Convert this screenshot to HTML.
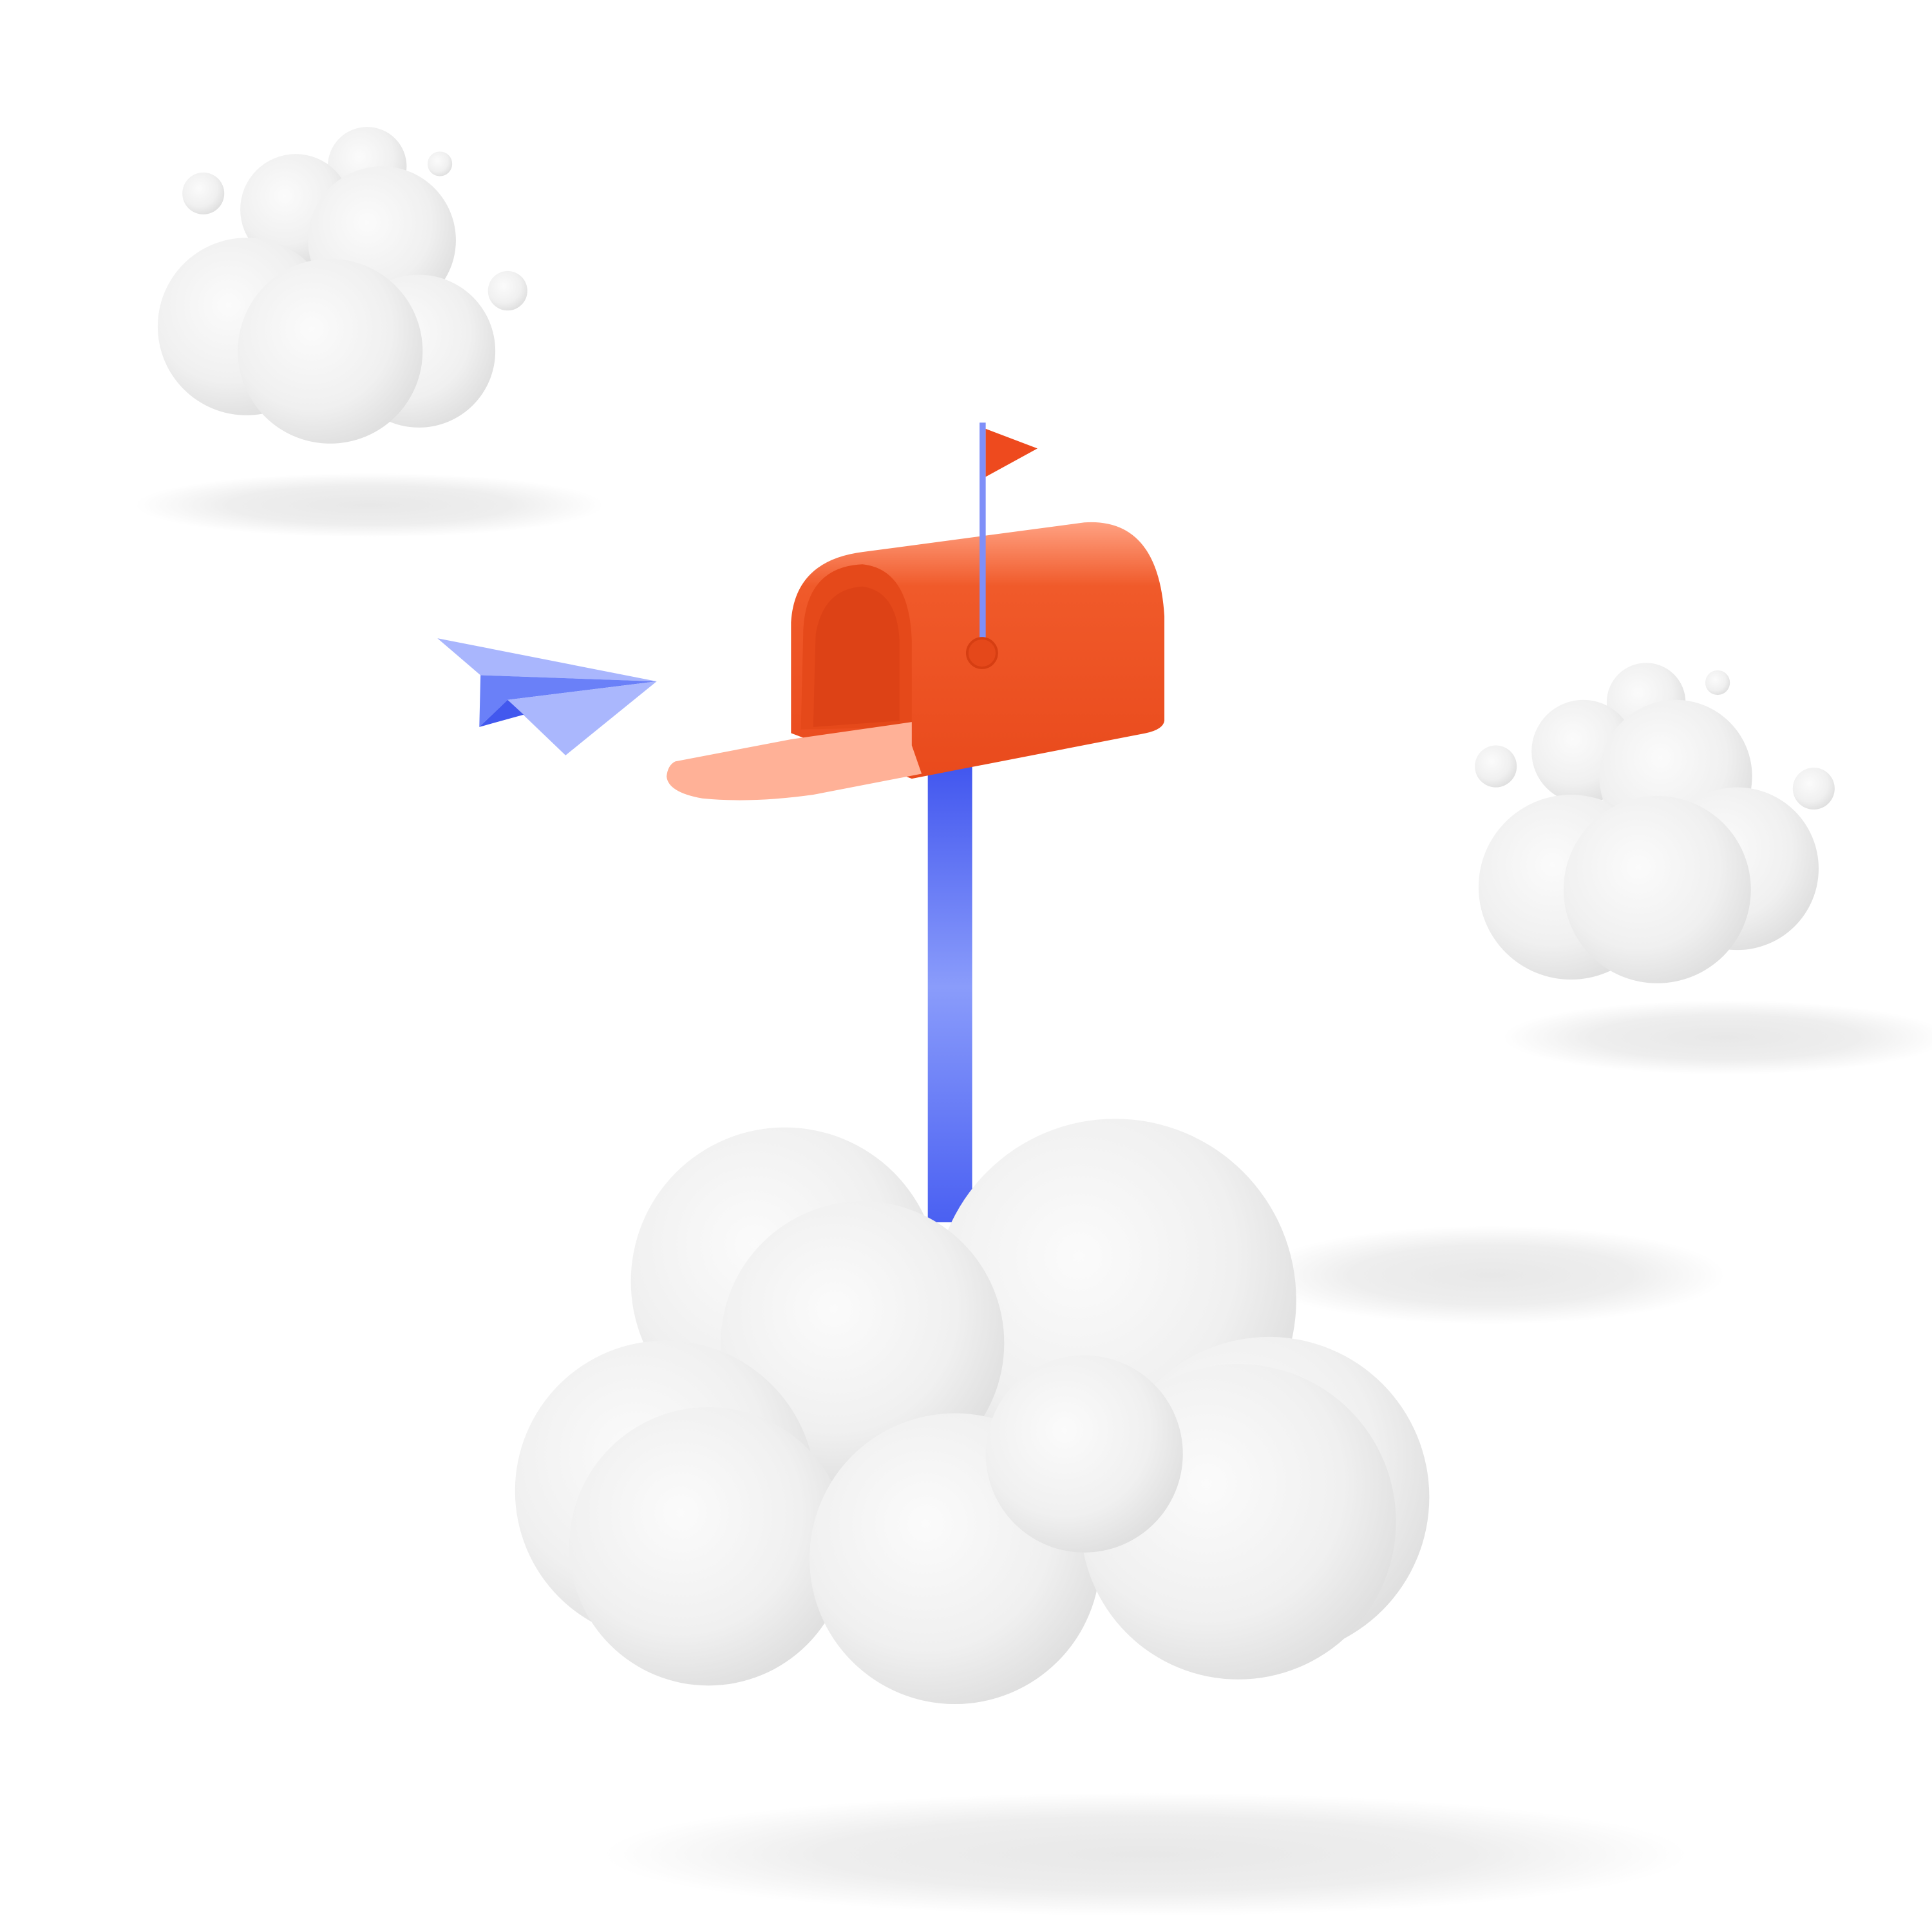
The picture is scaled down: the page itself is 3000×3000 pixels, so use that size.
<!DOCTYPE html>
<html><head><meta charset="utf-8"><style>
html,body{margin:0;padding:0;background:#fff;width:3000px;height:3000px;overflow:hidden}
svg{display:block}
</style></head><body>
<svg width="3000" height="3000" viewBox="0 0 1568 1568" xmlns="http://www.w3.org/2000/svg">
<defs>
<radialGradient id="cg" cx="0.4" cy="0.38" r="0.72">
<stop offset="0" stop-color="#fbfbfb"/><stop offset="0.6" stop-color="#f0f0f0"/><stop offset="1" stop-color="#dadada"/>
</radialGradient>
<radialGradient id="sh" cx="0.5" cy="0.5" r="0.5">
<stop offset="0" stop-color="#e8e8e8"/><stop offset="0.6" stop-color="#eeeeee"/><stop offset="1" stop-color="#eeeeee" stop-opacity="0"/>
</radialGradient>
<linearGradient id="pole" x1="0" y1="0" x2="0" y2="1">
<stop offset="0" stop-color="#3d52ee"/><stop offset="0.5" stop-color="#8a9cfb"/><stop offset="1" stop-color="#4a60f2"/>
</linearGradient>
<linearGradient id="box" x1="0" y1="0" x2="0" y2="1">
<stop offset="0" stop-color="#ffa182"/><stop offset="0.25" stop-color="#f05a2a"/><stop offset="1" stop-color="#e94a1c"/>
</linearGradient>
</defs>
<rect width="1568" height="1568" fill="#ffffff"/>

<g>
<ellipse cx="300" cy="410" rx="190" ry="26" fill="url(#sh)"/>
<ellipse cx="1400" cy="842" rx="180" ry="30" fill="url(#sh)"/>
<ellipse cx="1210" cy="1035" rx="190" ry="40" fill="url(#sh)"/>
<ellipse cx="930" cy="1505" rx="440" ry="50" fill="url(#sh)"/>
</g>

<g>
<circle cx="165" cy="157" r="17" fill="url(#cg)"/>
<circle cx="357" cy="133" r="10" fill="url(#cg)"/>
<circle cx="412" cy="236" r="16" fill="url(#cg)"/>
<circle cx="298" cy="135" r="32" fill="url(#cg)"/>
<circle cx="240" cy="170" r="45" fill="url(#cg)"/>
<circle cx="310" cy="195" r="60" fill="url(#cg)"/>
<circle cx="340" cy="285" r="62" fill="url(#cg)"/>
<circle cx="200" cy="265" r="72" fill="url(#cg)"/>
<circle cx="268" cy="285" r="75" fill="url(#cg)"/>
</g>

<g>
<circle cx="1214" cy="622" r="17" fill="url(#cg)"/>
<circle cx="1394" cy="554" r="10" fill="url(#cg)"/>
<circle cx="1472" cy="640" r="17" fill="url(#cg)"/>
<circle cx="1336" cy="570" r="32" fill="url(#cg)"/>
<circle cx="1285" cy="610" r="42" fill="url(#cg)"/>
<circle cx="1360" cy="630" r="62" fill="url(#cg)"/>
<circle cx="1410" cy="705" r="66" fill="url(#cg)"/>
<circle cx="1275" cy="720" r="75" fill="url(#cg)"/>
<circle cx="1345" cy="722" r="76" fill="url(#cg)"/>
</g>

<rect x="753" y="610" width="36" height="382" fill="url(#pole)"/>

<g>
<circle cx="637" cy="1040" r="125" fill="url(#cg)"/>
<circle cx="905" cy="1055" r="147" fill="url(#cg)"/>
<circle cx="700" cy="1090" r="115" fill="url(#cg)"/>
<circle cx="540" cy="1210" r="122" fill="url(#cg)"/>
<circle cx="1030" cy="1215" r="130" fill="url(#cg)"/>
<circle cx="575" cy="1255" r="113" fill="url(#cg)"/>
<circle cx="775" cy="1265" r="118" fill="url(#cg)"/>
<circle cx="1005" cy="1235" r="128" fill="url(#cg)"/>
<circle cx="880" cy="1180" r="80" fill="url(#cg)"/>
</g>

<g>
<path d="M642 595 L642 505 Q645 455 700 448 L880 424 Q940 420 945 500 L945 585 Q944 592 930 595 L740 632 Z" fill="url(#box)"/>
<path d="M650 592 L652 510 Q655 460 700 458 Q738 462 740 520 L740 590 Z" fill="#e5491a"/>
<path d="M660 590 L662 515 Q668 478 700 476 Q728 480 730 520 L730 585 Z" fill="#dd4216"/>
<path d="M548 618 L642 600 L740 586 L740 605 L748 628 L660 645 Q610 652 570 648 Q542 643 541 630 Q542 621 548 618 Z" fill="#ffb197"/>
<rect x="795" y="343" width="5" height="190" fill="#7f8ff8"/>
<circle cx="797" cy="530" r="12" fill="#e5481a" stroke="#d63e12" stroke-width="2"/>
<path d="M800 348 L842 364 L800 387 Z" fill="#ee4a1e"/>
</g>

<g>
<path d="M355 518 L533 553 L390 548 Z" fill="#a9b6fd"/>
<path d="M390 548 L533 553 L412 568 L389 590 Z" fill="#6a80f8"/>
<path d="M412 568 L533 553 L459 613 Z" fill="#aab7fd"/>
<path d="M389 590 L412 568 L425 580 Z" fill="#4258ee"/>
</g>
</svg>
</body></html>
